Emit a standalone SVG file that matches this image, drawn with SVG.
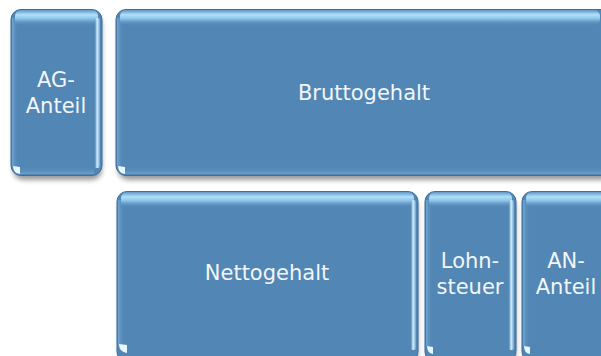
<svg xmlns="http://www.w3.org/2000/svg" width="601" height="356" viewBox="0 0 601 356">
<defs>
<style>
.base{fill:#5286b4;stroke:#3f6f99;stroke-width:1}
.shadow{fill:#000;opacity:0.4;filter:url(#blur)}
.top{fill:url(#gTop)}
.rside{fill:url(#gRight)}
.lside{fill:url(#gLeft)}
.bot{fill:url(#gBot)}
.dot{fill:#e8f6ff}
.lbl{font-family:"DejaVu Sans","Liberation Sans",sans-serif;font-size:21px;fill:#f2f6fa;text-anchor:middle}
</style>
<filter id="blur" x="-10%" y="-10%" width="120%" height="130%"><feGaussianBlur stdDeviation="2.5"/></filter>
<linearGradient id="gTop" x1="0" y1="0" x2="0" y2="1">
<stop offset="0" stop-color="#5f97c6"/>
<stop offset="0.3" stop-color="#b2e0fb"/>
<stop offset="0.55" stop-color="#8cc3ea"/>
<stop offset="1" stop-color="#5286b4" stop-opacity="0"/>
</linearGradient>
<linearGradient id="gRight" x1="0" y1="0" x2="1" y2="0">
<stop offset="0" stop-color="#5286b4" stop-opacity="0"/>
<stop offset="0.5" stop-color="#d8f2ff"/>
<stop offset="1" stop-color="#6aa3d2"/>
</linearGradient>
<linearGradient id="gLeft" x1="0" y1="0" x2="1" y2="0">
<stop offset="0" stop-color="#6fa6d3"/>
<stop offset="1" stop-color="#5286b4" stop-opacity="0"/>
</linearGradient>
<linearGradient id="gBot" x1="0" y1="0" x2="0" y2="1">
<stop offset="0" stop-color="#5286b4" stop-opacity="0"/>
<stop offset="1" stop-color="#6a9fcc"/>
</linearGradient>
</defs>

<g id="connectors"/>

<g id="ag-anteil">
<rect class="shadow" x="13" y="14" width="89" height="166" rx="10"/>
<rect class="base" x="11" y="9.5" width="91" height="166" rx="10"/>
<rect class="lside" x="12" y="18" width="7" height="148"/>
<rect class="bot" x="18" y="166" width="76" height="8"/>
<rect class="top" x="15" y="10" width="83" height="16" rx="6"/>
<rect class="rside" x="94" y="18" width="6" height="150" rx="2"/>
<path class="dot" d="M13,166 Q13,173 20,174 L20,167 Z"/>
<text class="lbl" x="56" y="87">AG-</text>
<text class="lbl" x="56" y="113">Anteil</text>
</g>

<g id="bruttogehalt">
<rect class="shadow" x="118" y="14" width="500" height="166" rx="10"/>
<rect class="base" x="116" y="9.5" width="500" height="166" rx="10"/>
<rect class="lside" x="117" y="18" width="7" height="148"/>
<rect class="bot" x="124" y="166" width="480" height="8"/>
<rect class="top" x="120" y="10" width="480" height="16" rx="6"/>
<path class="dot" d="M118,166 Q118,173 125,174 L125,167 Z"/>
<text class="lbl" x="364" y="100">Bruttogehalt</text>
</g>

<g id="nettogehalt">
<rect class="shadow" x="119" y="196" width="299" height="170" rx="10"/>
<rect class="base" x="117" y="191.5" width="301" height="170" rx="10"/>
<rect class="lside" x="118" y="200" width="7" height="146"/>
<rect class="top" x="121" y="192" width="293" height="16" rx="6"/>
<rect class="rside" x="410" y="200" width="6" height="150" rx="2"/>
<path class="dot" d="M119,344 Q119,352 127,353 L127,345 Z"/>
<text class="lbl" x="267" y="280">Nettogehalt</text>
</g>

<g id="lohnsteuer">
<rect class="shadow" x="427" y="196" width="89" height="170" rx="10"/>
<rect class="base" x="425" y="191.5" width="91" height="170" rx="10"/>
<rect class="lside" x="426" y="200" width="7" height="146"/>
<rect class="top" x="429" y="192" width="83" height="16" rx="6"/>
<rect class="rside" x="508" y="200" width="6" height="150" rx="2"/>
<path class="dot" d="M427,346 Q427,353 433,354 L433,347 Z"/>
<text class="lbl" x="470" y="268">Lohn-</text>
<text class="lbl" x="470" y="294">steuer</text>
</g>

<g id="an-anteil">
<rect class="shadow" x="524" y="196" width="100" height="170" rx="10"/>
<rect class="base" x="522" y="191.5" width="100" height="170" rx="10"/>
<rect class="lside" x="523" y="200" width="7" height="146"/>
<rect class="top" x="526" y="192" width="80" height="16" rx="6"/>
<path class="dot" d="M524,346 Q524,353 530,354 L530,347 Z"/>
<text class="lbl" x="566" y="268">AN-</text>
<text class="lbl" x="566" y="294">Anteil</text>
</g>
</svg>
